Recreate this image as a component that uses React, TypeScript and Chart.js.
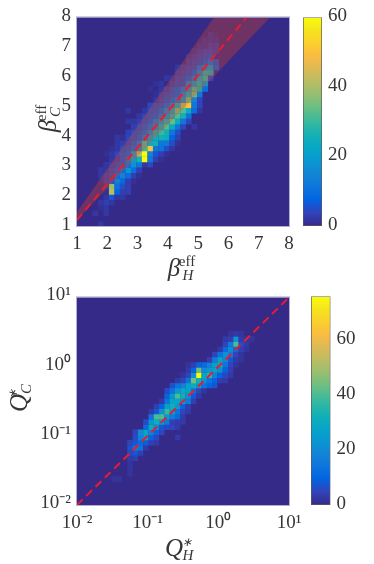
import React, { useEffect, useRef } from "react";
import { Chart, registerables } from "chart.js";

Chart.register(...registerables);

// MATLAB parula colour stops (evenly spaced, low to high)
const parula: number[][] = [
  [53, 42, 135], [50, 67, 186], [3, 99, 225], [13, 117, 220], [20, 133, 212], [9, 152, 209],
  [6, 167, 198], [21, 177, 180], [56, 185, 158], [101, 190, 134], [146, 191, 115], [183, 189, 100],
  [217, 186, 86], [248, 187, 68], [252, 206, 46], [245, 228, 29], [249, 251, 14],
];

const axisX = [1, 2, 3, 4, 5, 6, 7, 8];
const axisY = [1, 2, 3, 4, 5, 6, 7, 8];
const decades = [0.01, 0.1, 1, 10];
const decadeLabels = ["10⁻²", "10⁻¹", "10⁰", "10¹"];
const barTicks = [0, 20, 40, 60];
const topMax = 60;
const bottomMax = 76;

// Histogram rows, bottom to top: [first column index, counts...]
const topOrigin = 1.058;
const topStep = 0.1816;
const topRows: number[][] = [
  [4, 2], [0], [3, 2, 0, 2], [4, 1, 2], [4, 2, 3, 2], [5, 2, 6, 2, 2],
  [5, 1, 42, 8, 3, 3], [5, 2, 38, 11, 5, 3], [4, 1, 3, 5, 14, 9, 3, 1],
  [4, 2, 3, 4, 9, 14, 10, 3, 1], [4, 2, 2, 4, 6, 9, 18, 10, 3],
  [5, 2, 3, 5, 7, 10, 18, 12, 2, 4], [6, 2, 3, 6, 12, 20, 26, 60, 12, 3, 1],
  [5, 1, 2, 4, 6, 8, 20, 40, 60, 14, 6, 3, 1],
  [6, 1, 2, 5, 6, 9, 14, 30, 50, 12, 11, 5, 2],
  [7, 2, 3, 4, 7, 12, 30, 24, 25, 12, 12, 5, 1],
  [7, 2, 1, 4, 5, 7, 12, 20, 24, 26, 24, 8, 3],
  [9, 3, 5, 6, 9, 14, 24, 30, 26, 12, 5],
  [10, 3, 5, 7, 10, 16, 24, 32, 24, 12, 4, 0, 2],
  [9, 2, 2, 3, 5, 8, 12, 18, 26, 34, 24, 12, 4],
  [11, 2, 4, 6, 8, 12, 18, 26, 32, 26, 11],
  [9, 2, 0, 0, 2, 5, 6, 9, 14, 22, 34, 32, 24, 10, 2],
  [13, 4, 5, 6, 9, 14, 24, 40, 50, 12, 4],
  [14, 2, 4, 6, 9, 12, 18, 34, 14, 4],
  [14, 1, 3, 5, 6, 8, 14, 24, 34, 12],
  [13, 1, 0, 2, 3, 6, 8, 12, 18, 30, 26, 10],
  [14, 1, 2, 0, 3, 5, 5, 14, 18, 26, 18],
  [16, 2, 2, 4, 5, 7, 12, 22, 28, 4],
  [18, 3, 4, 5, 8, 14, 26, 24],
  [18, 2, 3, 4, 5, 10, 14, 18, 8],
  [20, 3, 4, 5, 7, 10, 6],
  [20, 2, 3, 4, 5, 6],
  [21, 2, 3, 4, 4, 3],
  [22, 2, 2, 3, 3],
  [23, 2, 2, 2],
  [24, 2, 1],
];

const bottomDecadeStart = -2;
const bottomStep = 0.075;
const bottomRows: number[][] = [
  [0], [0], [0], [0], [0], [7, 2, 2],
  [10, 2], [10, 2], [10, 2], [10, 3, 4], [10, 5, 8, 4],
  [10, 7, 16, 14, 3], [10, 5, 8, 12, 9, 4, 3],
  [11, 6, 18, 28, 10, 5, 0, 0, 0, 3], [11, 5, 20, 28, 18, 10, 5],
  [13, 12, 30, 20, 8, 6, 5, 3], [13, 6, 24, 32, 26, 16, 4, 3, 3],
  [14, 14, 40, 40, 24, 16, 12, 3], [14, 3, 8, 22, 38, 28, 14, 5, 3],
  [15, 4, 10, 26, 32, 24, 10, 4], [16, 3, 14, 28, 28, 26, 16, 4],
  [17, 10, 24, 40, 32, 22, 8, 3], [17, 6, 14, 24, 30, 28, 14, 5, 2],
  [18, 7, 14, 18, 28, 30, 26, 14, 10, 7],
  [19, 3, 5, 14, 44, 32, 24, 14, 10, 4, 3],
  [20, 2, 5, 22, 76, 28, 36, 18, 10, 5, 3],
  [21, 3, 10, 44, 20, 24, 28, 22, 10, 4],
  [21, 2, 4, 10, 12, 18, 28, 32, 14, 5, 2],
  [25, 4, 16, 28, 20, 8, 3, 2],
  [26, 5, 14, 22, 16, 5, 2],
  [27, 3, 12, 20, 12, 4, 2],
  [28, 5, 16, 40, 6, 3],
  [28, 3, 4, 24, 3, 2, 2],
  [29, 2, 3, 2],
];

// Reference lines and shaded band, in data units
const topLineX = [1, 6.6];
const topLineY = [1.2, 8];
const bandUpperX = [1, 7.37];
const bandUpperY = [1.47, 10.67];
const bandLowerX = [1, 7.37];
const bandLowerY = [1.2, 8];
const bottomLineX = [0.01, 10];
const bottomLineY = [0.01, 10];

const FONT = "'Liberation Serif', 'Times New Roman', serif";
const INK = "#363636";
const DASH_RED = "rgb(232,28,48)";

function colour(v: number, max: number) {
  const t = Math.min(1, v / max) * (parula.length - 1);
  const i = Math.min(parula.length - 2, Math.floor(t));
  const f = t - i;
  const c = parula[i].map((a, n) => Math.round(a + (parula[i + 1][n] - a) * f));
  return `rgb(${c[0]},${c[1]},${c[2]})`;
}

function cellsFrom(rows: number[][], pos: (i: number) => number, max: number) {
  const data: { x: number; y: number }[] = [];
  const colors: string[] = [];
  rows.forEach((row, j) => {
    row.slice(1).forEach((v, n) => {
      if (v > 0) {
        data.push({ x: pos(row[0] + n), y: pos(j) });
        colors.push(colour(v, max));
      }
    });
  });
  return { data, colors };
}

const pair = (xs: number[], ys: number[]) => xs.map((x, i) => ({ x, y: ys[i] }));

const frame = {
  id: "frame",
  beforeDatasetsDraw(chart: any) {
    const a = chart.chartArea;
    chart.ctx.save();
    chart.ctx.fillStyle = "rgb(53,42,135)";
    chart.ctx.fillRect(a.left, a.top, a.right - a.left, a.bottom - a.top);
    chart.ctx.restore();
  },
  afterDraw(chart: any) {
    const a = chart.chartArea;
    chart.ctx.save();
    chart.ctx.strokeStyle = "rgb(176,176,206)";
    chart.ctx.lineWidth = 1;
    chart.ctx.strokeRect(a.left - 0.5, a.top - 0.5, a.right - a.left + 1, a.bottom - a.top + 1);
    chart.ctx.restore();
  },
};

function lineDs(xs: number[], ys: number[]) {
  return {
    data: pair(xs, ys),
    showLine: true,
    borderColor: DASH_RED,
    borderWidth: 2,
    borderDash: [8, 5],
    pointRadius: 0,
    fill: false,
  };
}

function edgeDs(xs: number[], ys: number[], fill: any) {
  return {
    data: pair(xs, ys),
    showLine: true,
    borderWidth: 0,
    borderColor: "rgba(0,0,0,0)",
    backgroundColor: "rgba(243,70,20,0.3)",
    pointRadius: 0,
    fill,
  };
}

function heatDs(cells: { data: any[]; colors: string[] }, side: number) {
  return {
    data: cells.data,
    pointStyle: "rect",
    pointRadius: (side + 0.15) * Math.SQRT1_2,
    pointBorderWidth: 0,
    pointBackgroundColor: cells.colors,
    showLine: false,
  };
}

function heatOptions(area: { left: number; bottom: number; right: number; top: number }, x: any, y: any) {
  return {
    responsive: false,
    animation: false,
    events: [],
    layout: {
      autoPadding: false,
      padding: { left: 0, top: area.top, right: area.right, bottom: 0 },
    },
    plugins: { legend: { display: false }, tooltip: { enabled: false } },
    scales: {
      x: {
        ...x,
        grid: { display: false, drawTicks: false },
        border: { display: false },
        afterFit: (s: any) => { s.height = area.bottom; },
      },
      y: {
        ...y,
        grid: { display: false, drawTicks: false },
        border: { display: false },
        afterFit: (s: any) => { s.width = area.left; },
      },
    },
  };
}

function tickStyle(padding: number, labelOffset = 0) {
  return {
    color: INK,
    font: { family: FONT, size: 19 },
    padding,
    maxRotation: 0,
    autoSkip: false,
    labelOffset,
  };
}

function colourBar(canvas: HTMLCanvasElement, max: number, padLeft: number, axisWidth: number) {
  return new Chart(canvas, {
    type: "bar",
    data: {
      labels: ["count"],
      datasets: [{
        data: [[0, max]],
        barPercentage: 1,
        categoryPercentage: 1,
        borderSkipped: false,
        borderWidth: 1,
        borderColor: "#5a5a5a",
        backgroundColor: (ctx: any) => {
          const a = ctx.chart.chartArea;
          if (!a) return "rgb(53,42,135)";
          const g = ctx.chart.ctx.createLinearGradient(0, a.bottom, 0, a.top);
          parula.forEach((c, i) => g.addColorStop(i / (parula.length - 1), `rgb(${c[0]},${c[1]},${c[2]})`));
          return g;
        },
      }],
    },
    options: {
      responsive: false,
      animation: false,
      events: [],
      layout: { autoPadding: false, padding: { left: padLeft, top: 14, right: 0, bottom: 29 } },
      plugins: { legend: { display: false }, tooltip: { enabled: false } },
      scales: {
        x: { display: false },
        y: {
          position: "right",
          min: 0,
          max,
          afterBuildTicks: (s: any) => { s.ticks = barTicks.map((value) => ({ value })); },
          ticks: tickStyle(6, -1),
          grid: { display: false, drawTicks: false },
          border: { display: false },
          afterFit: (s: any) => { s.width = axisWidth; },
        },
      },
    } as any,
  } as any);
}

const mathStyle = (u: number, v: number, size: number, italic: boolean): React.CSSProperties => ({
  position: "absolute",
  left: u,
  top: v,
  transform: "translate(-50%,-50%)",
  font: `${italic ? "italic " : ""}${size}px ${FONT}`,
  lineHeight: 1,
  whiteSpace: "nowrap",
  color: INK,
});

function MathLabel(p: {
  cx: number; cy: number; rotate?: boolean; base: string; sup: string; sub: string;
  supItalic?: boolean; supSize?: number; supU?: number; supV?: number;
}) {
  return (
    <div style={{
      position: "absolute", left: p.cx, top: p.cy, width: 0, height: 0,
      transform: p.rotate ? "rotate(-90deg)" : undefined,
    }}>
      <span style={mathStyle(-8, 0, 25, true)}>{p.base}</span>
      <span style={mathStyle(p.supU ?? 5, p.supV ?? -6, p.supSize ?? 15, !!p.supItalic)}>{p.sup}</span>
      <span style={mathStyle(6, 8, 15, true)}>{p.sub}</span>
    </div>
  );
}

const place = (left: number, top: number): React.CSSProperties => ({ position: "absolute", left, top, display: "block" });

export default function App() {
  const a = useRef<HTMLCanvasElement>(null);
  const b = useRef<HTMLCanvasElement>(null);
  const c = useRef<HTMLCanvasElement>(null);
  const d = useRef<HTMLCanvasElement>(null);

  useEffect(() => {
    const topCells = cellsFrom(topRows, (i) => topOrigin + topStep * i, topMax);
    const bottomCells = cellsFrom(bottomRows, (i) => Math.pow(10, bottomDecadeStart + bottomStep * i), bottomMax);

    const top = new Chart(a.current!, {
      type: "scatter",
      data: {
        datasets: [
          lineDs(topLineX, topLineY),
          edgeDs(bandUpperX, bandUpperY, "+1"),
          edgeDs(bandLowerX, bandLowerY, false),
          heatDs(topCells, 5.5),
        ],
      } as any,
      options: heatOptions(
        { left: 77, bottom: 29, right: 31, top: 14 },
        {
          type: "linear", min: 1, max: 8,
          afterBuildTicks: (s: any) => { s.ticks = axisX.map((value) => ({ value })); },
          ticks: tickStyle(7),
        },
        {
          type: "linear", min: 1, max: 8,
          afterBuildTicks: (s: any) => { s.ticks = axisY.map((value) => ({ value })); },
          ticks: tickStyle(6, -1),
        },
      ) as any,
      plugins: [frame],
    } as any);

    const logTicks = (s: any) => { s.ticks = decades.map((value) => ({ value })); };
    const logLabel = (v: any) => {
      const i = decades.findIndex((t) => Math.abs(t - v) < t * 1e-6);
      return i >= 0 ? decadeLabels[i] : "";
    };
    const bottom = new Chart(b.current!, {
      type: "scatter",
      data: {
        datasets: [lineDs(bottomLineX, bottomLineY), heatDs(bottomCells, 5.3)],
      } as any,
      options: heatOptions(
        { left: 77, bottom: 30, right: 31, top: 13 },
        {
          type: "logarithmic", min: 0.01, max: 10, afterBuildTicks: logTicks,
          ticks: { ...tickStyle(7), callback: logLabel },
        },
        {
          type: "logarithmic", min: 0.01, max: 10, afterBuildTicks: logTicks,
          ticks: { ...tickStyle(6, -2), callback: logLabel },
        },
      ) as any,
      plugins: [frame],
    } as any);

    const barTop = colourBar(c.current!, topMax, 8, 52);
    const barBottom = colourBar(d.current!, bottomMax, 8, 43.5);

    return () => {
      top.destroy();
      bottom.destroy();
      barTop.destroy();
      barBottom.destroy();
    };
  }, []);

  return (
    <div style={{ position: "absolute", left: 0, top: 0, width: 374, height: 564, overflow: "hidden", background: "#fff" }}>
      <canvas ref={a} width={320} height={255} style={place(0, 0)} />
      <canvas ref={b} width={320} height={255} style={place(0, 280)} />
      <canvas ref={c} width={79} height={255} style={place(295, 0)} />
      <canvas ref={d} width={71} height={255} style={place(303, 279)} />
      <MathLabel cx={182} cy={267} base="β" sup="eff" sub="H" supU={5} supV={-6} />
      <MathLabel cx={47} cy={118} rotate base="β" sup="eff" sub="C" supU={5} supV={-6} />
      <MathLabel cx={182} cy={547} base="Q" sup="∗" sub="H" supItalic supSize={12} supU={5} supV={-5} />
      <MathLabel cx={18} cy={395} rotate base="Q" sup="∗" sub="C" supItalic supSize={12} supU={1} supV={-5} />
    </div>
  );
}
